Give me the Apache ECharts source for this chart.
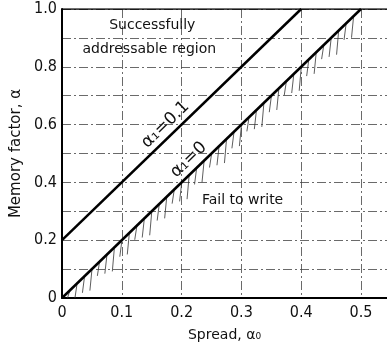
<!DOCTYPE html>
<html><head><meta charset="utf-8">
<script src="https://cdn.jsdelivr.net/npm/echarts@6/dist/echarts.min.js"></script>
<style>html,body{margin:0;padding:0;background:#fff}#c{width:387px;height:352px}</style>
</head><body><div id="c"></div>
<script>
// data
const xTicks = [0, 0.1, 0.2, 0.3, 0.4, 0.5];
const yTicks = [0, 0.2, 0.4, 0.6, 0.8, 1.0];
const lineA0 = [[0, 0], [0.5, 1.0]];      // alpha1 = 0 boundary
const lineA01 = [[0, 0.2], [0.4, 1.0]];   // alpha1 = 0.1 boundary
const labelA01 = "α₁=0.1";
const labelA0 = "α₁=0";

const FONT = "'DejaVu Sans Condensed','Liberation Sans Narrow','DejaVu Sans',sans-serif";
const FONT2 = "'DejaVu Sans',sans-serif";
const chart = echarts.init(document.getElementById('c'), null, {renderer: 'canvas'});
const gridLine = {show: true, lineStyle: {color: '#444', width: 0.8, type: [9, 3, 2, 3]}};

function near(v, arr) { return arr.some(t => Math.abs(t - v) < 1e-6); }

const option = {
  animation: false,
  grid: {left: 62, top: 9, right: 0, bottom: 54, containLabel: false, outerBoundsMode: 'none'},
  xAxis: {
    type: 'value', min: 0, max: 0.5435, interval: 0.1,
    name: 'Spread, α₀', nameLocation: 'middle', nameGap: 30,
    nameTextStyle: {fontFamily: FONT2, fontSize: 14, color: '#111'},
    axisLine: {show: true, onZero: false, lineStyle: {color: '#000', width: 2}},
    axisTick: {show: false},
    splitLine: gridLine,
    axisLabel: {fontFamily: FONT, fontSize: 16, color: '#111', margin: 7,
      formatter: v => near(v, xTicks) ? (v === 0 ? '0' : v.toFixed(1)) : ''}
  },
  yAxis: {
    type: 'value', min: 0, max: 1.0, interval: 0.1,
    name: 'Memory factor, α', nameLocation: 'middle', nameGap: 37,
    nameTextStyle: {fontFamily: FONT2, fontSize: 15, color: '#111'},
    axisLine: {show: true, onZero: false, lineStyle: {color: '#000', width: 2}},
    axisTick: {show: false},
    splitLine: gridLine,
    axisLabel: {fontFamily: FONT, fontSize: 16, color: '#111', margin: 5,
      formatter: v => near(v, yTicks) ? (v === 0 ? '0' : v.toFixed(1)) : ''}
  },
  series: [
    {type: 'line', data: lineA0, symbol: 'none', lineStyle: {color: '#000', width: 2.5}, z: 5},
    {type: 'line', data: lineA01, symbol: 'none', lineStyle: {color: '#000', width: 2.5}, z: 5},
    {type: 'line', data: [[0, 1.0], [0.5435, 1.0]], symbol: 'none', lineStyle: {color: '#000', width: 1.5}, z: 4},
    {
      type: 'custom', z: 3, data: [0],
      renderItem: function (params, api) {
        const p0 = api.coord(lineA0[0]);
        const p1 = api.coord(lineA0[1]);
        const children = [];
        const n = 40;
        for (let i = 1; i < n; i++) {
          const t = i / n;
          const x = p0[0] + (p1[0] - p0[0]) * t;
          const y = p0[1] + (p1[1] - p0[1]) * t;
          const len = Math.min(14 + 10 * ((i * 7) % 5) / 4, p0[1] - y);
          children.push({type: 'line', shape: {x1: x, y1: y + 1, x2: x - 2, y2: y + len},
            style: {stroke: '#333', lineWidth: 0.8}});
        }
        return {type: 'group', children: children};
      }
    }
  ]
};
chart.setOption(option);

function px(pt) { return chart.convertToPixel({gridIndex: 0}, pt); }
const rot = Math.atan(((px([0,0])[1] - px([0.5,1])[1])) / (px([0.5,1])[0] - px([0,0])[0]));
const textStyle = (t, fs, f) => ({text: t, fontFamily: f || FONT2, fontSize: fs, fill: '#111', align: 'center', verticalAlign: 'middle'});
const a = px([0.173, 0.60]), b = px([0.212, 0.478]), c = px([0.302, 0.339]),
      d = px([0.151, 0.945]), e = px([0.146, 0.862]);
chart.setOption({graphic: [
  {type: 'text', x: a[0], y: a[1], rotation: rot, style: textStyle(labelA01, 17), z: 10},
  {type: 'text', x: b[0], y: b[1], rotation: rot, style: textStyle(labelA0, 17), z: 10},
  {type: 'text', x: c[0], y: c[1], style: textStyle('Fail to write', 14), z: 10},
  {type: 'text', x: d[0], y: d[1], style: textStyle('Successfully', 14), z: 10},
  {type: 'text', x: e[0], y: e[1], style: textStyle('addressable region', 14), z: 10}
]});
</script></body></html>
